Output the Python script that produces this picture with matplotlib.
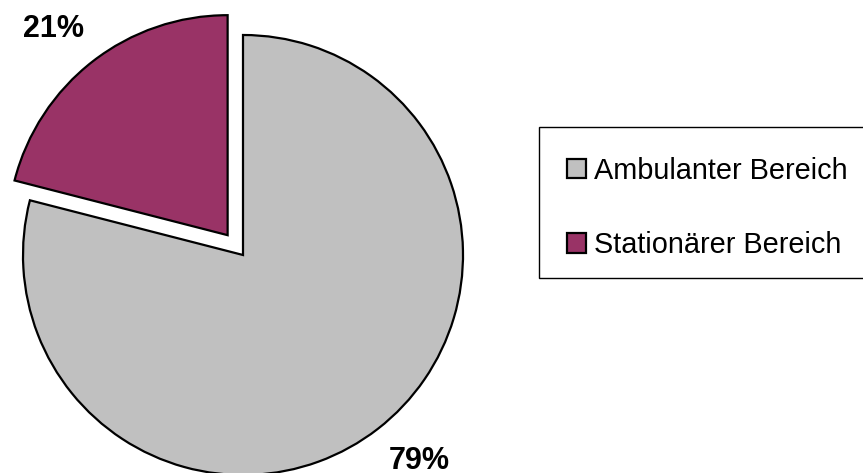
import matplotlib
matplotlib.use("Agg")
import matplotlib.pyplot as plt
from matplotlib.patches import Rectangle

plt.rcParams['font.family'] = ['Liberation Sans', 'DejaVu Sans']

# Data
categories = ["Ambulanter Bereich", "Stationärer Bereich"]
shares = [79, 21]
colors = ["#C0C0C0", "#993366"]
explode = [0.0, 0.114]

W, H = 863, 473
fig = plt.figure(figsize=(W / 100, H / 100), dpi=100)

# Pie centre and radius in pixels
cx, cy, r = 243, 255, 220
ax = fig.add_axes([0, 0, 1, 1])
wedges, _ = ax.pie(shares, colors=colors, explode=explode, startangle=90,
                   counterclock=False, radius=1.0,
                   wedgeprops=dict(edgecolor="black", linewidth=1.6))
ax.set_aspect('auto')
ax.set_xlim(-cx / r, (W - cx) / r)
ax.set_ylim(-(H - cy) / r, cy / r)
ax.axis('off')

# Percentage labels
label_pos = {0: ((419 - cx) / r, (cy - 461) / r), 1: ((53 - cx) / r, (cy - 29) / r)}
for i, v in enumerate(shares):
    x, y = label_pos[i]
    ax.text(x, y, f"{v}%", ha="center", va="center", fontsize=22,
            fontweight="bold", color="black")

# Legend box
fig.patches.append(Rectangle((539 / W, 1 - 278 / H), (W + 10 - 539) / W, (278 - 127) / H,
                             transform=fig.transFigure, facecolor="white",
                             edgecolor="black", linewidth=1.0, zorder=0))
leg = fig.legend(wedges, categories, loc="upper left",
                 bbox_to_anchor=(567 / W, 1 - 157 / H), frameon=False,
                 fontsize=20.8, handlelength=0.65, handleheight=0.65,
                 handletextpad=0.3, labelspacing=1.6, borderpad=0,
                 borderaxespad=0)
for h in leg.legend_handles:
    h.set_linewidth(1.6)

fig.savefig("out.png", dpi=100)
